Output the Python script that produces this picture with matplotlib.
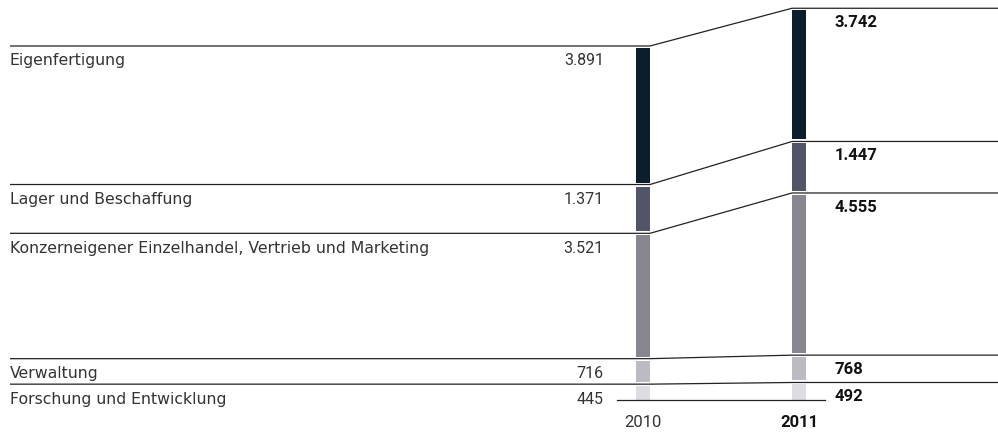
import matplotlib
matplotlib.use("Agg")
import matplotlib.pyplot as plt

# ---- data ----
categories = ["Eigenfertigung", "Lager und Beschaffung",
              "Konzerneigener Einzelhandel, Vertrieb und Marketing",
              "Verwaltung", "Forschung und Entwicklung"]
values_2010 = [3891, 1371, 3521, 716, 445]
values_2011 = [3742, 1447, 4555, 768, 492]
labels_2010 = ["3.891", "1.371", "3.521", "716", "445"]
labels_2011 = ["3.742", "1.447", "4.555", "768", "492"]
years = ["2010", "2011"]

# ---- style / layout ----
colors = ["#0c1d2d", "#525567", "#87858f", "#bcbbc3", "#dddce2"]
W, H = 998, 436
base_px = 400          # pixel row of the zero line
scale = 0.0356         # pixels per unit
px = 1.0 / scale       # one pixel in data units
x2010, x2011, bw = 643, 799, 14
label_x, val2010_x, val2011_x = 10, 604, 835
line_left, line_right = 10, 998
base_l, base_r = 617, 825
line_color = "#222222"
text_color = "#333333"
num_font = "Roboto"

fig = plt.figure(figsize=(W / 100, H / 100), dpi=100)
ax = fig.add_axes([0, 0, 1, 1])
ax.set_xlim(0, W)
ax.set_ylim(-(H - base_px) * px, base_px * px)
ax.axis("off")

n = len(categories)
for i in range(n):
    top10 = sum(values_2010[i:])
    bot10 = sum(values_2010[i + 1:])
    top11 = sum(values_2011[i:])
    bot11 = sum(values_2011[i + 1:])
    g = 2 * px
    b10 = bot10 + g if i < n - 1 else 0
    b11 = bot11 + g if i < n - 1 else 0
    ax.bar(x2010, (top10 - g) - b10, bottom=b10, width=bw, color=colors[i], zorder=2)
    ax.bar(x2011, (top11 - g) - b11, bottom=b11, width=bw, color=colors[i], zorder=2)
    # connecting line
    ax.plot([line_left, x2010 + bw / 2, x2011 - bw / 2, line_right],
            [top10, top10, top11, top11], color=line_color, lw=0.9,
            solid_capstyle="butt", zorder=3)
    # texts
    ax.annotate(categories[i], (label_x, top10), xytext=(0, -14),
                textcoords="offset points", ha="left", va="baseline",
                fontsize=11.3, family="DejaVu Sans", color=text_color)
    ax.annotate(labels_2010[i], (val2010_x, top10), xytext=(0, -14),
                textcoords="offset points", ha="right", va="baseline",
                fontsize=11.5, family=num_font, color=text_color)
    ax.annotate(labels_2011[i], (val2011_x, top11), xytext=(0, -13.5),
                textcoords="offset points", ha="left", va="baseline",
                fontsize=12, family=num_font, fontweight="bold",
                color="#111111")

# baseline
ax.plot([base_l, base_r], [0, 0], color=line_color, lw=0.9, zorder=3)

# year labels
ax.text(x2010, -27 * px, years[0], ha="center", va="baseline",
        fontsize=12, family=num_font, color=text_color)
ax.text(x2011, -27 * px, years[1], ha="center", va="baseline",
        fontsize=12, family=num_font, fontweight="bold", color="#111111")

fig.savefig("out.png", dpi=100)
